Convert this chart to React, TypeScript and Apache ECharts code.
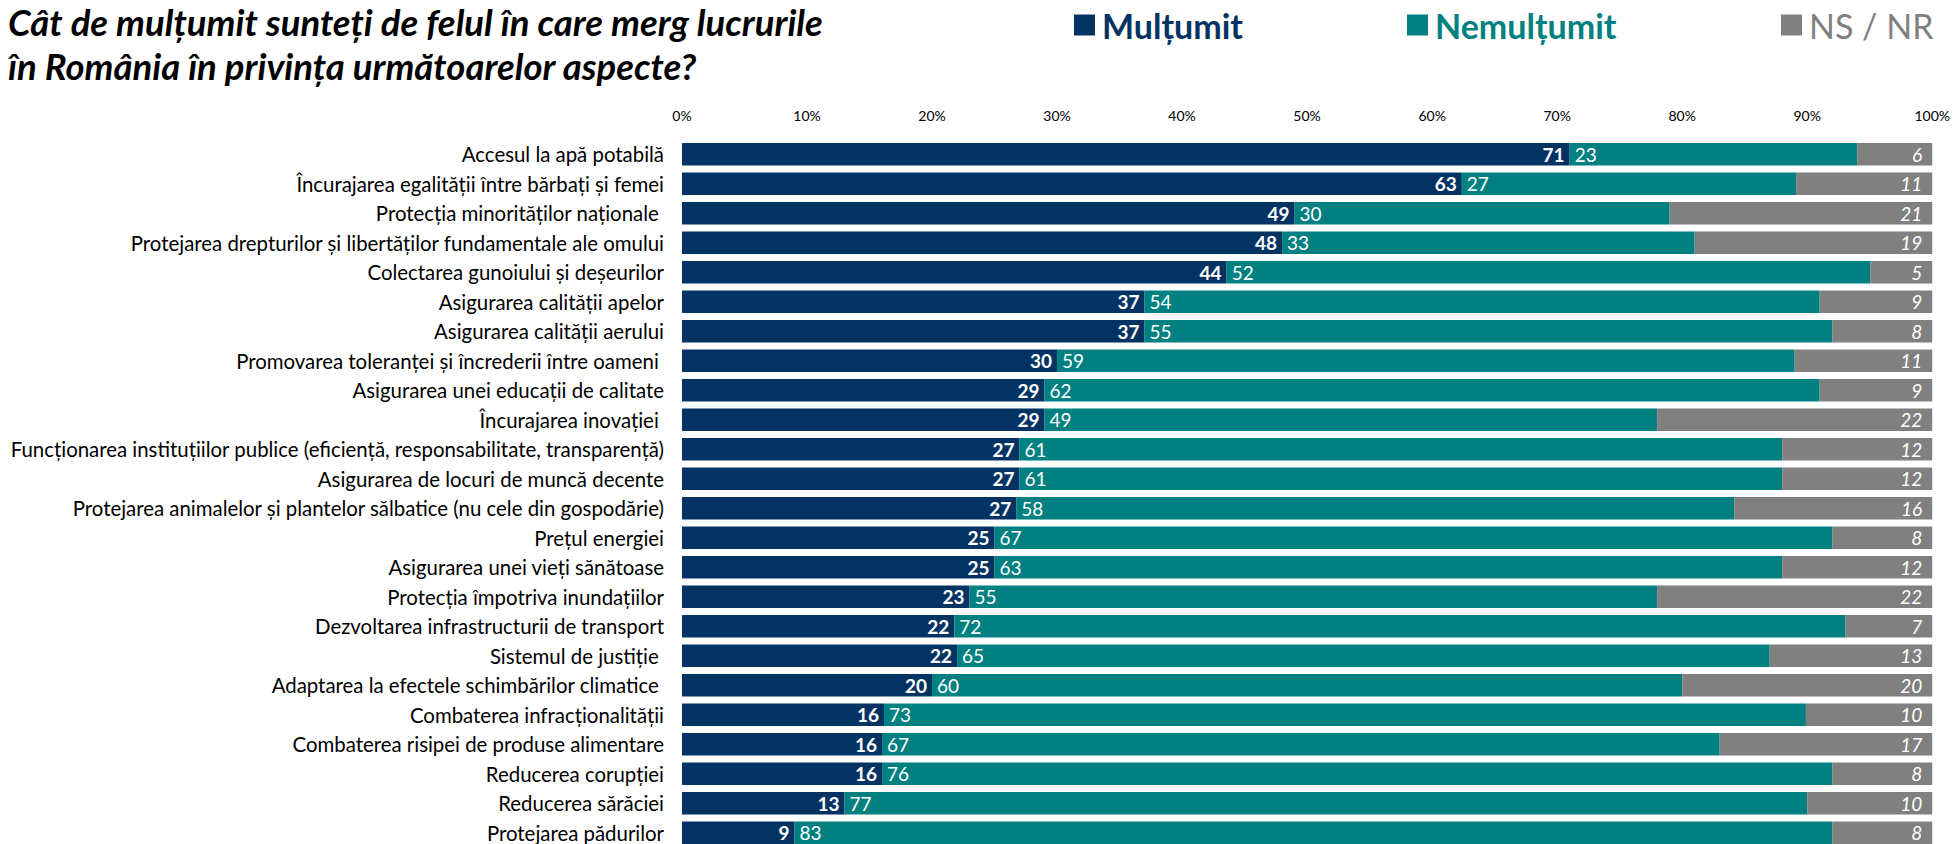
import React, { useEffect, useRef } from "react";
import * as echarts from "echarts";

const categories = [
  "Accesul la apă potabilă",
  "Încurajarea egalității între bărbați și femei",
  "Protecția minorităților naționale ",
  "Protejarea drepturilor și libertăților fundamentale ale omului",
  "Colectarea gunoiului și deșeurilor",
  "Asigurarea calității apelor",
  "Asigurarea calității aerului",
  "Promovarea toleranței și încrederii între oameni ",
  "Asigurarea unei educații de calitate",
  "Încurajarea inovației ",
  "Funcționarea instituțiilor publice (eficiență, responsabilitate, transparență)",
  "Asigurarea de locuri de muncă decente",
  "Protejarea animalelor și plantelor sălbatice (nu cele din gospodărie)",
  "Prețul energiei",
  "Asigurarea unei vieți sănătoase",
  "Protecția împotriva inundațiilor",
  "Dezvoltarea infrastructurii de transport",
  "Sistemul de justiție ",
  "Adaptarea la efectele schimbărilor climatice ",
  "Combaterea infracționalității",
  "Combaterea risipei de produse alimentare",
  "Reducerea corupției",
  "Reducerea sărăciei",
  "Protejarea pădurilor",
];

const multumit = [71, 63, 49, 48, 44, 37, 37, 30, 29, 29, 27, 27, 27, 25, 25, 23, 22, 22, 20, 16, 16, 16, 13, 9];
const nemultumit = [23, 27, 30, 33, 52, 54, 55, 59, 62, 49, 61, 61, 58, 67, 63, 55, 72, 65, 60, 73, 67, 76, 77, 83];
const nsnr = [6, 11, 21, 19, 5, 9, 8, 11, 9, 22, 12, 12, 16, 8, 12, 22, 7, 13, 20, 10, 17, 8, 10, 8];

const tickValues = [0, 10, 20, 30, 40, 50, 60, 70, 80, 90, 100];

const seriesNames = ["Mulțumit", "Nemulțumit", "NS / NR"];
const colors = ["#033363", "#008080", "#808080"];

const FONT = "Lato";

// each row is drawn as shares of its own total (100% stacked bars)
const totals = categories.map((_, i) => multumit[i] + nemultumit[i] + nsnr[i]);
const share = (arr: number[]) => arr.map((v, i) => (v / totals[i]) * 100);

export default function App() {
  const ref = useRef<HTMLDivElement>(null);

  useEffect(() => {
    if (!ref.current) return;
    const chart = echarts.init(ref.current, null, { renderer: "svg" });
    const raw = [multumit, nemultumit, nsnr];

    const labelStyles: any[] = [
      { position: "insideRight", distance: 5, fontWeight: "bold", fontStyle: "normal" },
      { position: "insideLeft", distance: 5, fontWeight: "normal", fontStyle: "normal" },
      { position: "insideRight", distance: 10, fontWeight: "normal", fontStyle: "italic" },
    ];

    const legendLefts = [1074, 1407, 1781];
    const legendColors = ["#033363", "#008080", "#808080"];
    const legendWeights = ["bold", "bold", "normal"];

    chart.setOption({
      animation: false,
      backgroundColor: "#ffffff",
      title: {
        text: "Cât de mulțumit sunteți de felul în care merg lucrurile\nîn România în privința următoarelor aspecte?",
        left: 8,
        top: 0,
        padding: 0,
        textStyle: {
          fontFamily: FONT,
          fontSize: 36.5,
          fontWeight: "bold",
          fontStyle: "italic",
          color: "#000000",
          lineHeight: 44,
        },
      },
      legend: seriesNames.map((name, i) => ({
        data: [name],
        left: legendLefts[i],
        top: 8,
        padding: 0,
        icon: "rect",
        itemWidth: 21,
        itemHeight: 21,
        itemGap: 6,
        selectedMode: false,
        textStyle: {
          fontFamily: FONT,
          fontSize: 34,
          fontWeight: legendWeights[i],
          color: legendColors[i],
          padding: [0, 0, 0, 2],
        },
      })),
      grid: {
        left: 682,
        width: 1254,
        top: 139.5,
        height: 708,
        containLabel: false,
      },
      xAxis: {
        type: "value",
        position: "top",
        min: 0,
        max: 100,
        interval: 10,
        axisLine: { show: false },
        axisTick: { show: false },
        splitLine: { show: false },
        axisLabel: {
          formatter: (v: number) => (tickValues.includes(v) ? `${v}%` : ""),
          fontFamily: FONT,
          fontSize: 14,
          color: "#000000",
          margin: 17,
        },
      },
      yAxis: {
        type: "category",
        data: categories,
        inverse: true,
        axisLine: { show: false },
        axisTick: { show: false },
        splitLine: { show: false },
        axisLabel: {
          fontFamily: FONT,
          fontSize: 20.4,
          color: "#000000",
          margin: 18,
        },
      },
      series: raw.map((arr, s) => ({
        name: seriesNames[s],
        type: "bar",
        stack: "total",
        data: share(arr),
        barWidth: 22.5,
        itemStyle: { color: colors[s] },
        label: {
          show: true,
          position: labelStyles[s].position,
          distance: labelStyles[s].distance,
          color: "#ffffff",
          fontFamily: FONT,
          fontSize: 19,
          fontWeight: labelStyles[s].fontWeight,
          fontStyle: labelStyles[s].fontStyle,
          formatter: (p: any) => String(arr[p.dataIndex]),
        },
      })),
    });

    return () => chart.dispose();
  }, []);

  return (
    <div
      ref={ref}
      style={{ position: "fixed", left: 0, top: 0, width: 1953, height: 880 }}
    />
  );
}
